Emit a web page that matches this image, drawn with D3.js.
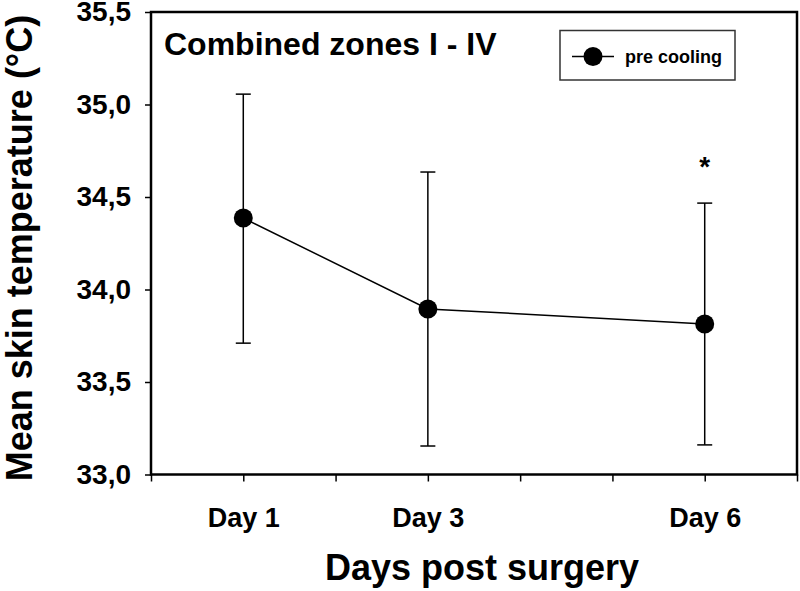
<!DOCTYPE html>
<html><head><meta charset="utf-8">
<script src="https://cdn.jsdelivr.net/npm/d3@7"></script>
<style>body{margin:0;background:#fff}svg{display:block}text{font-family:"Liberation Sans",Arial,sans-serif;font-weight:bold;fill:#000}</style>
</head><body><svg id="c" width="800" height="591"></svg>
<script>
const days = [1, 3, 6];
const dayLabels = ["Day 1", "Day 3", "Day 6"];
const means = [34.386, 33.895, 33.814];
const upper = [35.056, 34.635, 34.467];
const lower = [33.71, 33.154, 33.16];
const yTicks = [33.0, 33.5, 34.0, 34.5, 35.0, 35.5];
const xTicks = [0, 1, 2, 3, 4, 5, 6, 7];
const sigMark = ["", "", "*"];

const svg = d3.select("#c");
const L = 151, R = 797, T = 12, B = 474.5;
const x = d3.scaleLinear().domain([0, 7]).range([L, R]);
const y = d3.scaleLinear().domain([33, 35.5]).range([B, T]);
const fmt = d => d3.format(".1f")(d).replace(".", ",");

// y axis
const ya = svg.append("g").attr("transform", `translate(${L},0)`)
  .call(d3.axisLeft(y).tickValues(yTicks).tickFormat(fmt).tickSize(6).tickPadding(14));
ya.select(".domain").remove();
ya.selectAll("line").attr("stroke", "#000").attr("stroke-width", 1.5);
ya.selectAll("text").attr("font-size", 28).attr("font-family", "Liberation Sans, Arial, sans-serif").attr("font-weight", "bold");

// x axis
const xa = svg.append("g").attr("transform", `translate(0,${B})`)
  .call(d3.axisBottom(x).tickValues(xTicks).tickFormat(d => {
    const i = days.indexOf(d); return i >= 0 ? dayLabels[i] : "";
  }).tickSize(7).tickPadding(26));
xa.select(".domain").remove();
xa.selectAll("line").attr("stroke", "#000").attr("stroke-width", 1.5);
xa.selectAll("text").attr("font-size", 27).attr("font-family", "Liberation Sans, Arial, sans-serif").attr("font-weight", "bold");

// frame
svg.append("rect").attr("x", L).attr("y", T).attr("width", R - L).attr("height", B - T)
  .attr("fill", "none").attr("stroke", "#000").attr("stroke-width", 2.5);

// line
svg.append("path").datum(days.map((d, i) => [x(d), y(means[i])]))
  .attr("d", d3.line()).attr("fill", "none").attr("stroke", "#000").attr("stroke-width", 1.5);

// error bars
const eb = svg.append("g").attr("stroke", "#000").attr("stroke-width", 1.5);
days.forEach((d, i) => {
  eb.append("line").attr("x1", x(d)).attr("x2", x(d)).attr("y1", y(upper[i])).attr("y2", y(lower[i]));
  [upper[i], lower[i]].forEach(v => eb.append("line").attr("x1", x(d) - 7.5).attr("x2", x(d) + 7.5).attr("y1", y(v)).attr("y2", y(v)));
});

// points
svg.append("g").selectAll("circle").data(days).join("circle")
  .attr("cx", d => x(d)).attr("cy", (d, i) => y(means[i])).attr("r", 9.5).attr("fill", "#000");

// significance
svg.append("g").selectAll("text").data(days).join("text")
  .attr("x", d => x(d)).attr("y", (d, i) => y(upper[i]) - 27).attr("text-anchor", "middle")
  .attr("font-size", 28).text((d, i) => sigMark[i]);

// title
svg.append("text").attr("x", 164).attr("y", 55).attr("font-size", 32).text("Combined zones I - IV");

// legend
svg.append("rect").attr("x", 560).attr("y", 30.5).attr("width", 175).attr("height", 49.5)
  .attr("fill", "#fff").attr("stroke", "#333").attr("stroke-width", 1.5);
svg.append("line").attr("x1", 572).attr("x2", 614).attr("y1", 56.5).attr("y2", 56.5).attr("stroke", "#000").attr("stroke-width", 1.5);
svg.append("circle").attr("cx", 593).attr("cy", 56.5).attr("r", 9.5).attr("fill", "#000");
svg.append("text").attr("x", 625).attr("y", 63).attr("font-size", 18).text("pre cooling");

// axis titles
svg.append("text").attr("x", 482).attr("y", 580).attr("text-anchor", "middle").attr("font-size", 36).text("Days post surgery");
svg.append("text").attr("transform", "translate(32,248) rotate(-90)").attr("text-anchor", "middle").attr("font-size", 36).text("Mean skin temperature (°C)");
</script></body></html>
